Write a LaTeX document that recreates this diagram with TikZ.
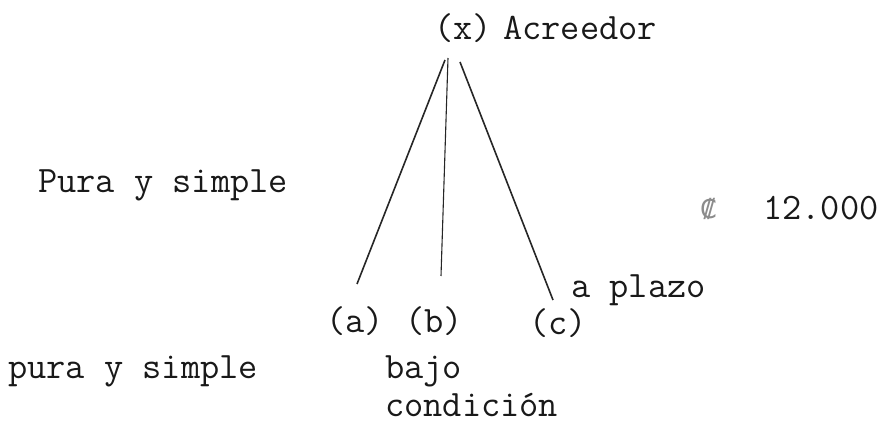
\documentclass[tikz,border=0pt]{standalone}
\usepackage{fontspec}
\newfontfamily\symfont{DejaVu Sans}
\begin{document}
\begin{tikzpicture}[x=1pt,y=-1pt,
  txt/.style={anchor=base west,inner sep=0pt,font=\ttfamily\fontsize{37.3}{40}\selectfont,text=black!90},
  branch/.style={line width=1.6pt,draw=black!85}]
\useasboundingbox (0,0) rectangle (881,422);
\node[txt] (x) at (434,40) {(x)};
\node[txt] (acr) at (503,40) {Acreedor};
\node[txt] (pys) at (38,193) {Pura y simple};
\node[txt,text=black!45] (col) at (700,219) {\symfont\fontsize{26}{28}\selectfont ₡};
\node[txt] (monto) at (763,220) {12.000};
\node[txt] (plazo) at (571,298) {a plazo};
\node[txt] (a) at (326,332) {(a)};
\node[txt] (b) at (405,332) {(b)};
\node[txt] (c) at (529,334) {(c)};
\node[txt] (pys2) at (8,378) {pura y simple};
\node[txt] (bajo) at (385,378) {bajo};
\node[txt] (cond) at (385,416) {condición};
\coordinate (xa) at (445,60);
\coordinate (xb) at (448,58);
\coordinate (xc) at (460,62);
\coordinate (ea) at (357,284);
\coordinate (eb) at (441,276);
\coordinate (ec) at (553,300);
\draw[branch] (xa) -- (ea);
\draw[branch,line width=1.1pt] (xb) -- (eb);
\draw[branch] (xc) -- (ec);
\end{tikzpicture}
\end{document}
